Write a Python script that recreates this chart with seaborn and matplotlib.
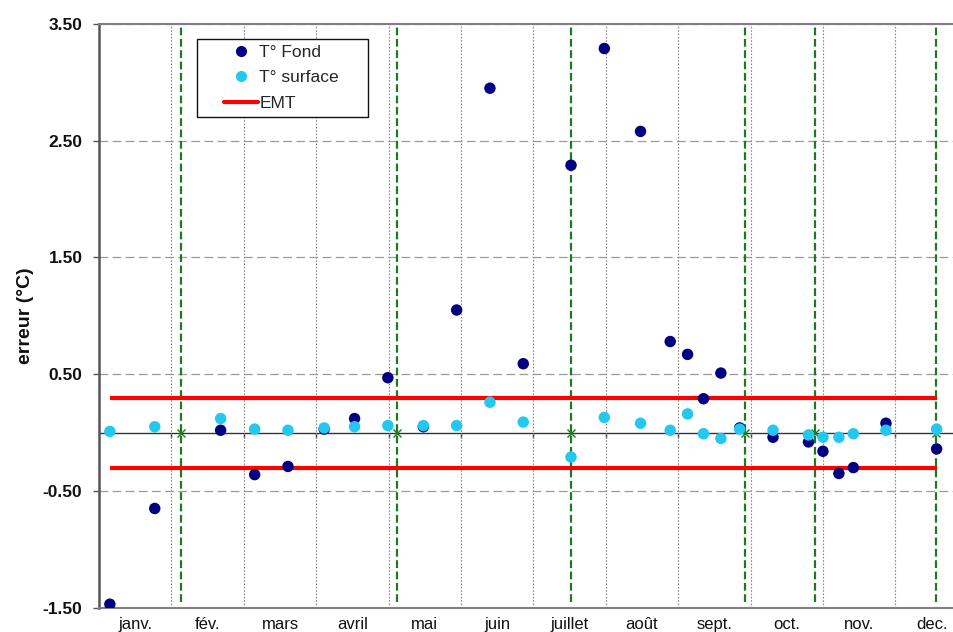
import matplotlib
matplotlib.use("Agg")
import matplotlib.pyplot as plt
from matplotlib.lines import Line2D
from matplotlib.patches import Rectangle
from matplotlib.ticker import FixedLocator, FuncFormatter
import pandas as pd
import seaborn as sns

# ---- data -----------------------------------------------------------------
mois = ["janv.", "fév.", "mars", "avril", "mai", "juin", "juillet",
        "août", "sept.", "oct.", "nov.", "dec."]

# date of each check, expressed in months since 1 January
position = [0.15, 0.77, 1.68, 2.15, 2.61, 3.11, 3.53, 3.99, 4.48, 4.94,
            5.40, 5.86, 6.52, 6.98, 7.48, 7.89, 8.13, 8.35, 8.59, 8.85,
            9.31, 9.80, 10.00, 10.22, 10.42, 10.87, 11.57]

# error of the bottom probe (°C)
t_fond = [-1.47, -0.65, 0.02, -0.36, -0.29, 0.03, 0.12, 0.47, 0.05, 1.05,
          2.95, 0.59, 2.29, 3.29, 2.58, 0.78, 0.67, 0.29, 0.51, 0.04,
          -0.04, -0.08, -0.16, -0.35, -0.30, 0.08, -0.14]

# error of the surface probe (°C)
t_surface = [0.01, 0.05, 0.12, 0.03, 0.02, 0.04, 0.05, 0.06, 0.06, 0.06,
             0.26, 0.09, -0.21, 0.13, 0.08, 0.02, 0.16, -0.01, -0.05, 0.03,
             0.02, -0.02, -0.04, -0.04, -0.01, 0.02, 0.03]

# maximum tolerated error (±)
emt = 0.30

# calibration dates (months since 1 January)
etalonnage = [1.13, 4.12, 6.515, 8.93, 9.89, 11.565]

y_ticks = [-1.50, -0.50, 0.50, 1.50, 2.50, 3.50]

# ---- styling --------------------------------------------------------------
sns.set_theme(style="white")
plt.rcParams["font.family"] = ["Liberation Sans", "DejaVu Sans"]

c_fond = "#000080"
c_surf = "#22C8F0"
c_emt = "#FF0000"
c_etal = "#1E7A1E"

W, H = 954, 632
fig = plt.figure(figsize=(W / 100, H / 100), dpi=100)
left, right, top, bottom = 99, 954, 24, 607.7
ax = fig.add_axes([left / W, 1 - bottom / H, (right - left) / W, (bottom - top) / H])

ylo, yhi = -1.5, 3.5
ax.set_xlim(0, 11.81)
ax.set_ylim(ylo, yhi)

# calibration markers
ax.vlines(etalonnage, -1.45, 3.5, colors=c_etal, linewidth=1.6,
          linestyles=(0, (3.5, 1.6)), zorder=3)
ax.plot(etalonnage, [0] * len(etalonnage), linestyle="none", marker="x",
        color=c_etal, markersize=6, markeredgewidth=1.0, zorder=3)

# tolerance band
ax.hlines([emt, -emt], position[0], position[-1], colors=c_emt,
          linewidth=3.0, zorder=4)

# measurements
n = len(position)
df = pd.DataFrame({
    "position": position + position,
    "erreur": t_fond + t_surface,
    "serie": ["T° Fond"] * n + ["T° surface"] * n,
})
sns.scatterplot(data=df, x="position", y="erreur", hue="serie",
                palette={"T° Fond": c_fond, "T° surface": c_surf},
                s=68, linewidth=0, legend=False, ax=ax, zorder=5)

# ---- axes -----------------------------------------------------------------
ax.set_xlabel("")
ax.set_ylabel("erreur (°C)", fontsize=14, fontweight="bold", color="#111111")
ax.yaxis.set_label_coords(-0.0755, 0.50)

ax.yaxis.set_major_locator(FixedLocator(y_ticks))
ax.yaxis.set_major_formatter(FuncFormatter(lambda v, p: f"{v:.2f}"))
for lab in ax.get_yticklabels():
    lab.set_fontweight("bold")
ax.tick_params(axis="y", which="major", direction="out", length=4.5,
               width=1.0, color="#555555", pad=7.4, labelsize=12.5,
               labelcolor="#111111", left=True)

ax.xaxis.set_major_locator(FixedLocator([i + 0.5 for i in range(12)]))
ax.set_xticklabels(mois)
ax.xaxis.set_minor_locator(FixedLocator(list(range(1, 12))))
ax.tick_params(axis="x", which="both", length=0, pad=6.5, labelsize=12,
               labelcolor="#111111")

ax.yaxis.grid(True, which="major", linestyle=(0, (7, 3.5)),
              color="#9a9a9a", linewidth=0.9)
ax.xaxis.grid(True, which="minor", linestyle=(0, (1.5, 1.5)),
              color="#8a8a8a", linewidth=0.8)
ax.xaxis.grid(False, which="major")
ax.set_axisbelow(True)

for side in ["top", "bottom"]:
    ax.spines[side].set_color("#808080")
    ax.spines[side].set_linewidth(1.5)
ax.spines["left"].set_color("#555555")
ax.spines["left"].set_linewidth(1.8)
ax.spines["right"].set_visible(False)

# horizontal axis crossing at zero, with ticks at month boundaries
zero_frac = (0 - ylo) / (yhi - ylo)
sec = ax.secondary_xaxis(zero_frac)
sec.xaxis.set_major_locator(FixedLocator(list(range(1, 12))))
sec.tick_params(axis="x", direction="out", length=3.5, width=1.0,
                color="#333333", labelbottom=False, labeltop=False,
                bottom=True, top=False)
sec.spines["bottom"].set_color("#333333")
sec.spines["bottom"].set_linewidth(1.0)
sec.spines["top"].set_visible(False)

# ---- legend ---------------------------------------------------------------
fig.patches.append(Rectangle((197.5 / W, 1 - 117.3 / H), (368.3 - 197.5) / W,
                             (117.3 - 39.3) / H, transform=fig.transFigure,
                             facecolor="white", edgecolor="#111111",
                             linewidth=1.0, zorder=2))
handles = [
    Line2D([], [], linestyle="none", marker="o", markersize=8,
           markerfacecolor=c_fond, markeredgewidth=0),
    Line2D([], [], linestyle="none", marker="o", markersize=8,
           markerfacecolor=c_surf, markeredgewidth=0),
    Line2D([], [], color=c_emt, linewidth=3.0),
]
fig.legend(handles, ["T° Fond", "T° surface", "EMT"], loc="upper left",
           bbox_to_anchor=(224.3 / W, 1 - 45 / H), frameon=False,
           fontsize=12.5, handlelength=1.92, handletextpad=0.09,
           labelspacing=0.58, borderpad=0, borderaxespad=0)

fig.savefig("out.png", dpi=100)
